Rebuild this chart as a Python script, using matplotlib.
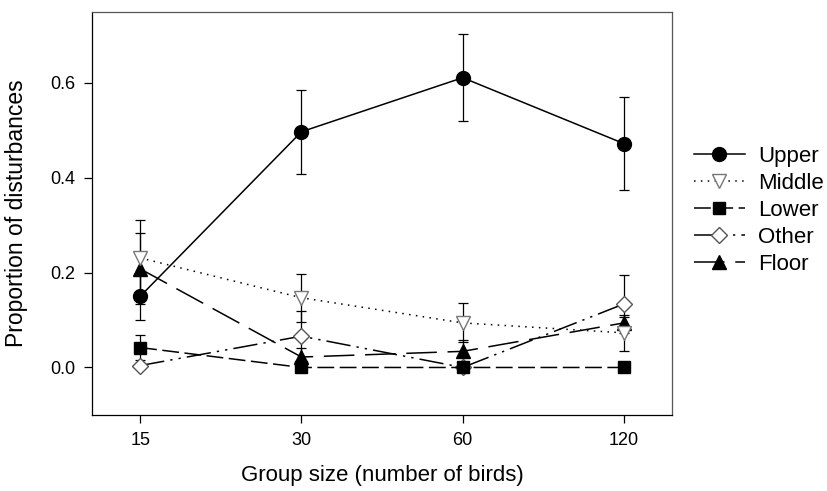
import matplotlib
matplotlib.use("Agg")
import matplotlib.pyplot as plt
import numpy as np

plt.rcParams['font.family'] = ['Liberation Sans', 'DejaVu Sans']

group_sizes = ["15", "30", "60", "120"]
upper = [0.150, 0.497, 0.611, 0.472]
upper_err = [0.050, 0.089, 0.092, 0.098]
middle = [0.231, 0.147, 0.094, 0.073]
middle_err = [0.080, 0.051, 0.041, 0.038]
lower = [0.042, 0.0, 0.0, 0.0]
lower_err = [0.026, 0.0, 0.0, 0.0]
other = [0.004, 0.066, 0.0, 0.134]
other_err = [0.0, 0.053, 0.0, 0.062]
floor = [0.208, 0.022, 0.034, 0.094]
floor_err = [0.075, 0.020, 0.023, 0.012]

series = [
    ("Upper", upper, upper_err, dict(marker='o', mfc='black', mec='black', ms=10, ls='-', color='black')),
    ("Middle", middle, middle_err, dict(marker='v', mfc='white', mec='#777777', ms=10, ls=(0, (1, 3.5)), color='black')),
    ("Lower", lower, lower_err, dict(marker='s', mfc='black', mec='black', ms=8.5, ls=(0, (11, 3.6)), color='black')),
    ("Other", other, other_err, dict(marker='D', mfc='white', mec='#555555', ms=8, ls=(0, (16, 4, 1.5, 4, 1.5, 4)), color='black')),
    ("Floor", floor, floor_err, dict(marker='^', mfc='black', mec='black', ms=9.5, ls=(0, (20, 7)), color='black')),
]

fig = plt.figure(figsize=(8.27, 4.91), dpi=100)
ax = fig.add_axes([0.111, 0.155, 0.702, 0.821])
x = np.arange(len(group_sizes))

handles = []
for i, (name, vals, errs, st) in enumerate(series):
    ax.errorbar(x, vals, yerr=errs, fmt='none', ecolor='black', elinewidth=0.9,
                capsize=3.5, capthick=0.9, zorder=2 + i * 0.1)
    h, = ax.plot(x, vals, lw=1.1, label=name, zorder=3 + (5 - i) * 0.1, **st)
    handles.append(h)

ax.set_xlim(-0.3, 3.3)
ax.set_ylim(-0.1, 0.75)
ax.set_xticks(x)
ax.set_xticklabels(group_sizes)
ax.set_yticks([0.0, 0.2, 0.4, 0.6])
ax.set_yticklabels(["0.0", "0.2", "0.4", "0.6"])
ax.tick_params(direction='out', length=6, width=0.9, labelsize=13, pad=6)
for s in ax.spines.values():
    s.set_linewidth(0.9)
ax.spines['top'].set_color('#555555')
ax.spines['right'].set_color('#555555')

ax.set_xlabel("Group size (number of birds)", fontsize=16, labelpad=12)
ax.set_ylabel("Proportion of disturbances", fontsize=16.5, labelpad=16)

fig.legend(handles=handles, loc='center left', bbox_to_anchor=(0.839, 0.572),
           frameon=False, fontsize=16, handlelength=2.3, handletextpad=0.6,
           labelspacing=0.27, borderpad=0, borderaxespad=0)

fig.savefig("out.png", dpi=100)
